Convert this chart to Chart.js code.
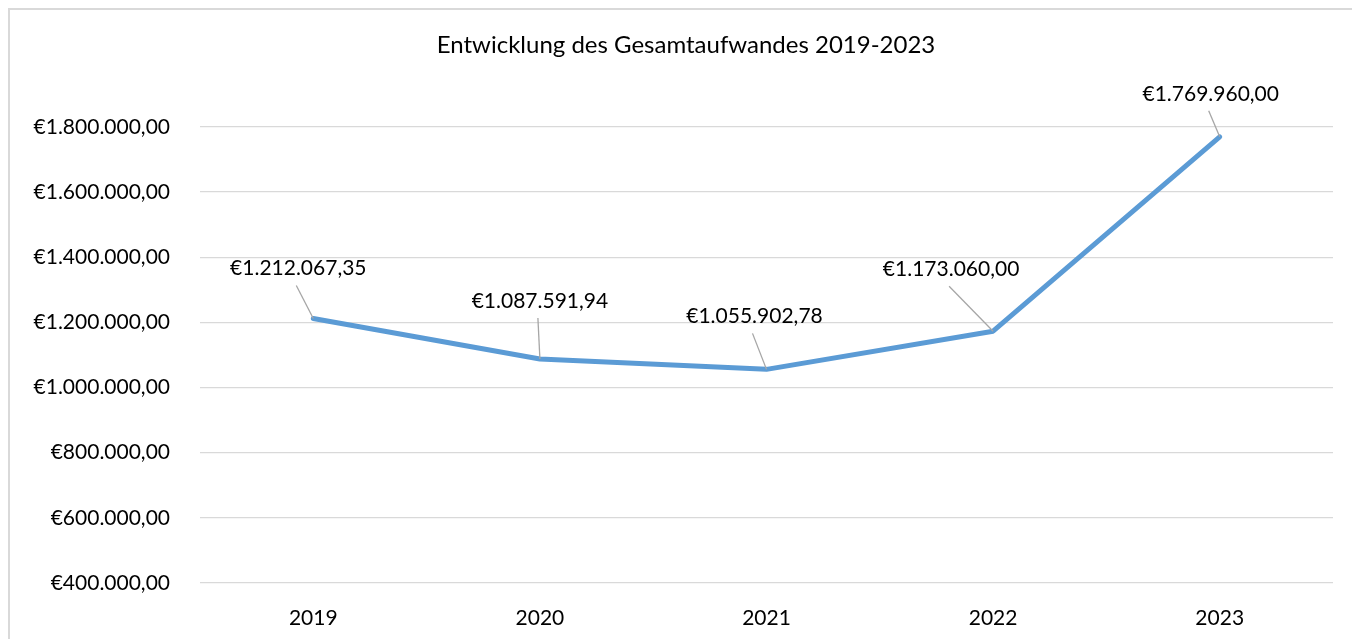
<!DOCTYPE html>
<html>
<head>
<meta charset="utf-8">
<script src="https://cdn.jsdelivr.net/npm/chart.js@4"></script>
<style>
  html, body { margin: 0; padding: 0; background: #fff; overflow: hidden; }
  #wrap { width: 1352px; height: 639px; }
</style>
</head>
<body>
<div id="wrap"><canvas id="chart" width="1352" height="639"></canvas></div>
<script>
// chart data
const years = ['2019', '2020', '2021', '2022', '2023'];
const totals = [1212067.35, 1087591.94, 1055902.78, 1173060.00, 1769960.00];
const yTicks = [400000, 600000, 800000, 1000000, 1200000, 1400000, 1600000, 1800000];

// where each data label sits, relative to its point (px)
const labelOffsets = [[-15, -50], [0, -58], [-12, -53], [-42, -62], [-9, -43]];

const FONT = 'Lato, "Open Sans", sans-serif';
const TEXT_SIZE = 21;

// German euro format: €1.212.067,35
function euro(v) {
    const parts = v.toFixed(2).split('.');
    const intPart = parts[0].replace(/\B(?=(\d{3})+(?!\d))/g, '.');
    return '€' + intPart + ',' + parts[1];
}

// draws the frame, title and the data labels with leader lines
const decorations = {
    id: 'decorations',
    afterDraw(chart) {
        const ctx = chart.ctx;
        ctx.save();

        // outer frame (only top and left edges are in view)
        ctx.strokeStyle = '#d9d9d9';
        ctx.lineWidth = 2;
        ctx.beginPath();
        ctx.moveTo(9, 660);
        ctx.lineTo(9, 9);
        ctx.lineTo(1400, 9);
        ctx.stroke();

        // title
        ctx.fillStyle = '#000';
        ctx.font = '24px ' + FONT;
        ctx.textAlign = 'center';
        ctx.textBaseline = 'middle';
        ctx.fillText('Entwicklung des Gesamtaufwandes 2019-2023', 686, 45);

        // data labels
        const meta = chart.getDatasetMeta(0);
        ctx.font = TEXT_SIZE + 'px ' + FONT;
        meta.data.forEach((pt, i) => {
            const lx = pt.x + labelOffsets[i][0];
            const ly = pt.y + labelOffsets[i][1];
            ctx.strokeStyle = '#a6a6a6';
            ctx.lineWidth = 1.3;
            ctx.beginPath();
            ctx.moveTo(lx - 2, ly + 17);
            ctx.lineTo(pt.x, pt.y);
            ctx.stroke();
            ctx.fillStyle = '#000';
            ctx.fillText(euro(totals[i]), lx, ly);
        });
        ctx.restore();
    }
};

const ctx = document.getElementById('chart').getContext('2d');

new Chart(ctx, {
    type: 'line',
    data: {
        labels: years,
        datasets: [{
            data: totals,
            borderColor: '#5b9bd5',
            borderWidth: 5,
            borderCapStyle: 'round',
            borderJoinStyle: 'round',
            pointRadius: 0,
            tension: 0
        }]
    },
    options: {
        responsive: false,
        animation: false,
        layout: { padding: { left: 0, right: 19, top: 127, bottom: 0 } },
        plugins: {
            legend: { display: false },
            title: { display: false },
            tooltip: { enabled: false }
        },
        scales: {
            x: {
                offset: true,
                grid: { display: false },
                border: { display: false },
                ticks: {
                    color: '#000',
                    font: { family: FONT, size: TEXT_SIZE },
                    padding: 15,
                    maxRotation: 0
                },
                afterFit(scale) { scale.height = 56; }
            },
            y: {
                min: 400000,
                max: 1800000,
                afterBuildTicks(scale) {
                    scale.ticks = yTicks.map(v => ({ value: v }));
                },
                grid: { color: '#d9d9d9', lineWidth: 1.3, drawTicks: false },
                border: { display: false },
                ticks: {
                    color: '#000',
                    font: { family: FONT, size: TEXT_SIZE },
                    padding: 30,
                    callback: v => euro(v)
                },
                afterFit(scale) { scale.width = 200; }
            }
        }
    },
    plugins: [decorations]
});
</script>
</body>
</html>
